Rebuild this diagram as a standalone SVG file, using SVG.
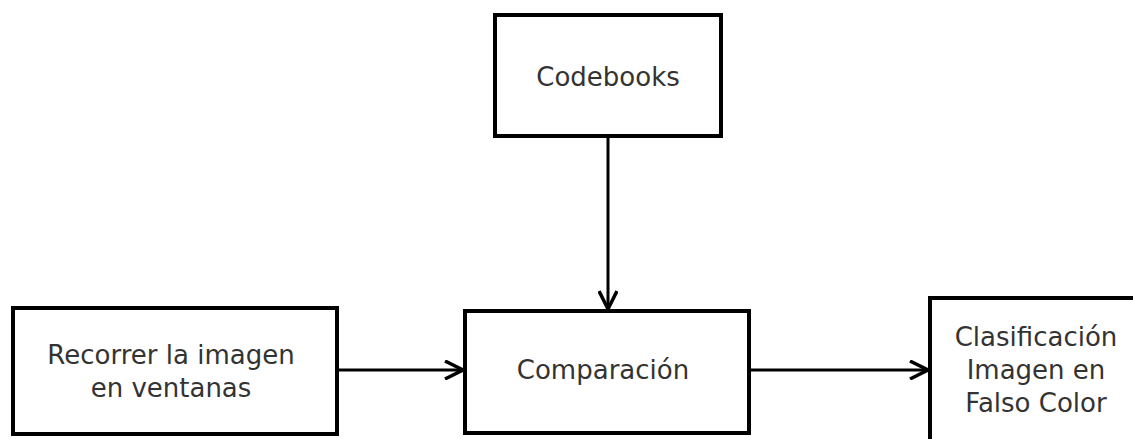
<svg xmlns="http://www.w3.org/2000/svg" width="1133" height="439" viewBox="0 0 1133 439">
<defs>
<style>
.box{fill:#fff;stroke:#000;stroke-width:4}
.lbl{font-family:"DejaVu Sans",sans-serif;font-size:26px;fill:#333;text-anchor:middle;dominant-baseline:central}
.conn{stroke:#000;stroke-width:3;fill:none}
</style>
<marker id="arr" viewBox="0 0 20 20" refX="19" refY="10" markerWidth="20" markerHeight="20" markerUnits="userSpaceOnUse" orient="auto">
<path d="M1,1 L19,10 L1,19" fill="none" stroke="#000" stroke-width="3.5"/>
</marker>
</defs>
<rect width="1133" height="439" fill="#fff"/>
<g id="connectors">
<line class="conn" x1="608" y1="137" x2="608" y2="309" marker-end="url(#arr)"/>
<line class="conn" x1="338" y1="370" x2="463" y2="370" marker-end="url(#arr)"/>
<line class="conn" x1="750" y1="370" x2="928" y2="370" marker-end="url(#arr)"/>
</g>
<g id="codebooks">
<rect class="box" x="495" y="15" width="226" height="121"/>
<text class="lbl" x="608" y="77">Codebooks</text>
</g>
<g id="recorrer">
<rect class="box" x="13" y="308" width="324" height="126"/>
<text class="lbl" x="171" y="355">Recorrer la imagen</text>
<text class="lbl" x="171" y="388">en ventanas</text>
</g>
<g id="comparacion">
<rect class="box" x="465" y="311" width="284" height="122"/>
<text class="lbl" x="603" y="370">Comparación</text>
</g>
<g id="clasificacion">
<rect class="box" x="930" y="298" width="260" height="200"/>
<text class="lbl" x="1036" y="337">Clasificación</text>
<text class="lbl" x="1036" y="370">Imagen en</text>
<text class="lbl" x="1036" y="403">Falso Color</text>
</g>
</svg>
